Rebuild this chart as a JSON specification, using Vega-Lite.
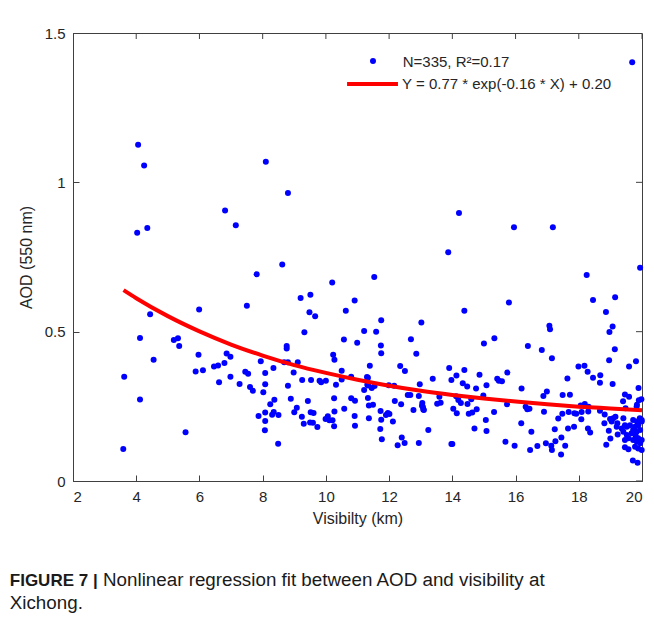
{
  "$schema": "https://vega.github.io/schema/vega-lite/v6.json",
  "autosize": {"type": "none"},
  "width": 569,
  "height": 448,
  "padding": {"left": 73, "top": 33, "right": 12, "bottom": 139},
  "background": "white",
  "config": {
    "font": "Liberation Sans",
    "view": {"stroke": "#404040", "strokeWidth": 1},
    "axis": {
      "grid": false,
      "domainColor": "#404040",
      "tickColor": "#404040",
      "labelColor": "#262626",
      "titleColor": "#262626",
      "labelFont": "Liberation Sans",
      "titleFont": "Liberation Sans",
      "labelFontSize": 15,
      "titleFontSize": 16,
      "titleFontWeight": "normal",
      "tickSize": -6,
      "domainWidth": 1,
      "tickWidth": 1
    }
  },
  "datasets": {
    "points": [
      {"x":4.06,"y":1.126},{"x":4.25,"y":1.056},{"x":4.03,"y":0.831},{"x":4.35,"y":0.847},{"x":8.10,"y":1.069},{"x":8.80,"y":0.964},{"x":6.81,"y":0.906},{"x":7.15,"y":0.856},{"x":19.69,"y":1.402},{"x":14.21,"y":0.897},{"x":15.95,"y":0.850},{"x":17.18,"y":0.850},{"x":13.87,"y":0.766},
      {"x":3.62,"y":0.349},{"x":3.59,"y":0.107},{"x":4.12,"y":0.479},{"x":4.12,"y":0.273},{"x":4.44,"y":0.558},{"x":4.55,"y":0.406},{"x":5.19,"y":0.472},{"x":5.32,"y":0.478},{"x":5.36,"y":0.452},{"x":5.56,"y":0.163},{"x":5.99,"y":0.574},{"x":5.97,"y":0.423},{"x":5.88,"y":0.367},{"x":6.11,"y":0.371},{"x":6.46,"y":0.383},{"x":6.59,"y":0.387},{"x":6.62,"y":0.331},{"x":6.79,"y":0.395},{"x":6.86,"y":0.427},{"x":6.98,"y":0.416},{"x":6.98,"y":0.349},{"x":7.27,"y":0.325},{"x":7.45,"y":0.366},{"x":7.54,"y":0.359},{"x":7.50,"y":0.587},{"x":7.60,"y":0.315},{"x":7.69,"y":0.302},{"x":7.81,"y":0.692},{"x":7.87,"y":0.218},{"x":7.94,"y":0.401},{"x":8.02,"y":0.297},{"x":8.08,"y":0.362},{"x":8.08,"y":0.324},{"x":8.08,"y":0.229},{"x":8.08,"y":0.201},{"x":8.07,"y":0.170},{"x":8.24,"y":0.257},{"x":8.34,"y":0.378},{"x":8.37,"y":0.272},{"x":8.30,"y":0.222},{"x":8.35,"y":0.231},{"x":8.50,"y":0.221},{"x":8.49,"y":0.125},{"x":8.62,"y":0.725},{"x":8.76,"y":0.444},{"x":8.76,"y":0.452},{"x":8.80,"y":0.398},{"x":8.68,"y":0.398},{"x":8.80,"y":0.319},{"x":8.89,"y":0.275},{"x":8.98,"y":0.363},{"x":9.11,"y":0.398},{"x":9.00,"y":0.230},{"x":9.08,"y":0.245},{"x":9.20,"y":0.613},{"x":9.32,"y":0.498},{"x":9.25,"y":0.338},{"x":9.24,"y":0.215},{"x":9.30,"y":0.192},{"x":9.43,"y":0.268},{"x":9.48,"y":0.565},{"x":9.51,"y":0.624},{"x":9.66,"y":0.552},{"x":9.53,"y":0.338},{"x":9.52,"y":0.230},{"x":9.61,"y":0.228},{"x":9.50,"y":0.196},{"x":9.59,"y":0.195},{"x":9.73,"y":0.181},{"x":9.80,"y":0.336},{"x":9.85,"y":0.331},{"x":10.00,"y":0.336},{"x":9.99,"y":0.208},{"x":10.06,"y":0.217},{"x":10.11,"y":0.203},{"x":10.21,"y":0.203},{"x":10.26,"y":0.183},{"x":10.20,"y":0.665},{"x":10.23,"y":0.423},{"x":10.27,"y":0.406},{"x":10.26,"y":0.277},{"x":10.27,"y":0.233},{"x":10.32,"y":0.322},{"x":10.57,"y":0.474},{"x":10.63,"y":0.570},{"x":10.50,"y":0.369},{"x":10.50,"y":0.340},{"x":10.58,"y":0.242},{"x":10.91,"y":0.604},{"x":10.99,"y":0.463},{"x":10.80,"y":0.349},{"x":10.80,"y":0.277},{"x":10.92,"y":0.269},{"x":10.91,"y":0.218},{"x":10.92,"y":0.185},
      {"x":11.53,"y":0.683},{"x":19.94,"y":0.714},{"x":18.25,"y":0.690},{"x":15.79,"y":0.598},{"x":18.45,"y":0.606},{"x":19.15,"y":0.615},{"x":18.86,"y":0.566},{"x":14.38,"y":0.570},{"x":11.75,"y":0.538},{"x":13.02,"y":0.531},{"x":17.07,"y":0.520},{"x":17.09,"y":0.508},{"x":19.07,"y":0.517},{"x":18.97,"y":0.499},{"x":11.21,"y":0.502},{"x":11.59,"y":0.500},{"x":12.69,"y":0.475},{"x":15.33,"y":0.478},{"x":15.00,"y":0.460},{"x":16.39,"y":0.452},{"x":16.83,"y":0.439},{"x":19.14,"y":0.441},{"x":11.74,"y":0.454},{"x":11.75,"y":0.428},{"x":12.86,"y":0.426},{"x":17.15,"y":0.411},{"x":18.96,"y":0.404},{"x":19.81,"y":0.401},{"x":11.39,"y":0.386},{"x":12.35,"y":0.385},{"x":13.90,"y":0.378},{"x":14.38,"y":0.372},{"x":17.99,"y":0.383},{"x":18.18,"y":0.386},{"x":19.59,"y":0.383},{"x":12.50,"y":0.368},{"x":18.28,"y":0.366},{"x":15.74,"y":0.363},{"x":14.86,"y":0.356},{"x":14.13,"y":0.353},{"x":11.30,"y":0.348},{"x":13.38,"y":0.342},{"x":13.97,"y":0.338},{"x":15.42,"y":0.342},{"x":15.47,"y":0.336},{"x":15.57,"y":0.334},{"x":18.45,"y":0.346},{"x":18.68,"y":0.354},{"x":18.67,"y":0.329},{"x":17.64,"y":0.343},{"x":19.07,"y":0.325},{"x":19.89,"y":0.311},{"x":14.33,"y":0.327},{"x":14.47,"y":0.316},{"x":14.75,"y":0.310},{"x":15.08,"y":0.321},{"x":16.19,"y":0.310},{"x":12.97,"y":0.324},{"x":11.34,"y":0.320},{"x":11.45,"y":0.311},{"x":11.54,"y":0.318},{"x":11.99,"y":0.321},{"x":12.16,"y":0.319},{"x":11.21,"y":0.305},{"x":16.99,"y":0.300},{"x":16.88,"y":0.285},{"x":17.49,"y":0.288},{"x":17.72,"y":0.289},{"x":19.46,"y":0.290},{"x":19.59,"y":0.282},{"x":19.40,"y":0.267},{"x":19.98,"y":0.274},{"x":19.90,"y":0.270},{"x":19.84,"y":0.255},{"x":12.59,"y":0.288},{"x":12.67,"y":0.288},{"x":12.94,"y":0.285},{"x":13.59,"y":0.282},{"x":14.12,"y":0.284},{"x":14.98,"y":0.286},{"x":11.33,"y":0.278},{"x":12.18,"y":0.268},{"x":13.05,"y":0.261},{"x":13.63,"y":0.262},{"x":13.52,"y":0.259},{"x":14.19,"y":0.271},{"x":14.27,"y":0.261},{"x":14.48,"y":0.258},{"x":14.60,"y":0.274},{"x":14.77,"y":0.240},{"x":15.73,"y":0.257},{"x":16.32,"y":0.249},{"x":16.37,"y":0.240},{"x":16.44,"y":0.242},{"x":16.90,"y":0.232},{"x":17.68,"y":0.231},{"x":17.86,"y":0.227},{"x":17.92,"y":0.225},{"x":18.09,"y":0.231},{"x":18.06,"y":0.253},{"x":18.19,"y":0.258},{"x":18.30,"y":0.233},{"x":18.31,"y":0.249},{"x":18.67,"y":0.235},{"x":18.82,"y":0.223},{"x":19.16,"y":0.215},{"x":19.48,"y":0.244},{"x":18.99,"y":0.208},{"x":19.04,"y":0.199},{"x":18.08,"y":0.207},{"x":17.48,"y":0.225},{"x":17.66,"y":0.176},{"x":17.85,"y":0.182},{"x":17.35,"y":0.209},{"x":17.24,"y":0.173},{"x":16.18,"y":0.193},{"x":16.50,"y":0.165},{"x":18.29,"y":0.176},{"x":18.36,"y":0.162},{"x":18.81,"y":0.193},{"x":18.95,"y":0.168},{"x":19.22,"y":0.193},{"x":19.23,"y":0.156},{"x":19.00,"y":0.142},{"x":18.87,"y":0.121},{"x":11.73,"y":0.234},{"x":11.75,"y":0.205},{"x":11.72,"y":0.174},{"x":11.77,"y":0.140},{"x":11.36,"y":0.253},{"x":11.36,"y":0.210},{"x":11.49,"y":0.255},{"x":11.90,"y":0.221},{"x":11.96,"y":0.228},{"x":12.12,"y":0.199},{"x":12.38,"y":0.257},{"x":12.77,"y":0.238},{"x":13.07,"y":0.248},{"x":13.08,"y":0.239},{"x":13.24,"y":0.171},{"x":12.27,"y":0.120},{"x":12.40,"y":0.146},{"x":12.49,"y":0.127},{"x":12.94,"y":0.127},{"x":13.97,"y":0.124},{"x":14.00,"y":0.124},{"x":14.03,"y":0.242},{"x":14.14,"y":0.227},{"x":14.52,"y":0.225},{"x":14.63,"y":0.229},{"x":14.70,"y":0.176},{"x":15.06,"y":0.204},{"x":15.08,"y":0.167},{"x":15.32,"y":0.231},{"x":15.68,"y":0.131},{"x":15.97,"y":0.118},{"x":16.46,"y":0.104},{"x":16.69,"y":0.117},{"x":16.96,"y":0.126},{"x":17.13,"y":0.118},{"x":17.15,"y":0.104},{"x":17.26,"y":0.133},{"x":17.45,"y":0.146},{"x":17.57,"y":0.118},{"x":17.44,"y":0.089},
      {"x":11.31,"y":0.322},{"x":11.33,"y":0.346},{"x":12.01,"y":0.224},{"x":13.04,"y":0.252},{"x":13.10,"y":0.238},
      {"x":19.84,"y":0.199},{"x":19.93,"y":0.210},{"x":19.99,"y":0.199},{"x":19.88,"y":0.187},{"x":19.78,"y":0.182},{"x":19.72,"y":0.171},{"x":19.83,"y":0.165},{"x":19.94,"y":0.171},{"x":19.67,"y":0.160},{"x":19.80,"y":0.151},{"x":19.88,"y":0.143},{"x":19.99,"y":0.137},{"x":19.72,"y":0.137},{"x":19.83,"y":0.132},{"x":19.94,"y":0.126},{"x":19.78,"y":0.115},{"x":19.88,"y":0.109},{"x":19.99,"y":0.104},{"x":19.86,"y":0.061},{"x":19.71,"y":0.069},{"x":19.57,"y":0.106},{"x":19.46,"y":0.113},{"x":19.46,"y":0.137},{"x":19.57,"y":0.143},{"x":19.52,"y":0.154},{"x":19.41,"y":0.165},{"x":19.36,"y":0.176},{"x":19.52,"y":0.182},{"x":19.46,"y":0.187},{"x":19.62,"y":0.187},{"x":19.41,"y":0.210},{"x":19.20,"y":0.182},{"x":19.09,"y":0.210},{"x":19.83,"y":0.249},{"x":19.99,"y":0.204},{"x":19.72,"y":0.204}
    ],
    "fit": [
      {"x":3.6,"y":0.639},{"x":4,"y":0.612},{"x":5,"y":0.552},{"x":6,"y":0.501},{"x":7,"y":0.457},{"x":8,"y":0.420},{"x":9,"y":0.388},{"x":10,"y":0.362},{"x":11,"y":0.339},{"x":12,"y":0.319},{"x":13,"y":0.302},{"x":14,"y":0.288},{"x":15,"y":0.276},{"x":16,"y":0.266},{"x":17,"y":0.257},{"x":18,"y":0.249},{"x":19,"y":0.243},{"x":20,"y":0.237}
    ],
    "xticks": [{"x":2},{"x":4},{"x":6},{"x":8},{"x":10},{"x":12},{"x":14},{"x":16},{"x":18},{"x":20}],
    "yticks": [{"y":0},{"y":0.5},{"y":1},{"y":1.5}]
  },
  "layer": [
    {
      "data": {"name": "points"},
      "mark": {"type": "point", "filled": true, "size": 36, "opacity": 1, "color": "#0000ff"},
      "encoding": {
        "x": {"field": "x", "type": "quantitative", "title": "Visibilty (km)", "scale": {"domain": [2, 20], "nice": false, "zero": false},
              "axis": {"orient": "bottom", "values": [2,4,6,8,10,12,14,16,18,20], "title": "Visibilty (km)", "labelPadding": 14, "titlePadding": 6}},
        "y": {"field": "y", "type": "quantitative", "title": "AOD (550 nm)", "scale": {"domain": [0, 1.5], "nice": false, "zero": false},
              "axis": {"orient": "left", "values": [0, 0.5, 1, 1.5], "format": "~g", "title": "AOD (550 nm)", "labelPadding": 14, "titlePadding": 10}}
      }
    },
    {
      "data": {"name": "fit"},
      "mark": {"type": "line", "strokeWidth": 4, "interpolate": "monotone", "color": "#ff0000"},
      "encoding": {
        "x": {"field": "x", "type": "quantitative", "title": "Visibilty (km)"},
        "y": {"field": "y", "type": "quantitative", "title": "AOD (550 nm)"}
      }
    },
    {
      "data": {"name": "xticks"},
      "mark": {"type": "tick", "orient": "vertical", "size": 12, "thickness": 1, "color": "#404040", "opacity": 1, "clip": true},
      "encoding": {"x": {"field": "x", "type": "quantitative", "title": "Visibilty (km)"}, "y": {"datum": 1.5, "title": "AOD (550 nm)"}}
    },
    {
      "data": {"name": "yticks"},
      "mark": {"type": "tick", "orient": "horizontal", "size": 12, "thickness": 1, "color": "#404040", "opacity": 1, "clip": true},
      "encoding": {"y": {"field": "y", "type": "quantitative", "title": "AOD (550 nm)"}, "x": {"datum": 20, "title": "Visibilty (km)"}}
    },
    {
      "data": {"values": [{}]},
      "mark": {"type": "point", "filled": true, "size": 36, "opacity": 1, "color": "#0000ff"},
      "encoding": {"x": {"datum": 11.49, "title": "Visibilty (km)"}, "y": {"datum": 1.406, "title": "AOD (550 nm)"}}
    },
    {
      "data": {"values": [{}]},
      "mark": {"type": "rule", "strokeWidth": 4, "color": "#ff0000"},
      "encoding": {"x": {"datum": 10.67, "title": "Visibilty (km)"}, "x2": {"datum": 12.28}, "y": {"datum": 1.329, "title": "AOD (550 nm)"}}
    },
    {
      "data": {"values": [{}]},
      "mark": {"type": "text", "align": "left", "baseline": "middle", "fontSize": 15, "color": "#262626", "font": "Liberation Sans"},
      "encoding": {"x": {"datum": 12.43, "title": "Visibilty (km)"}, "y": {"datum": 1.404, "title": "AOD (550 nm)"}, "text": {"value": "N=335, R²=0.17"}}
    },
    {
      "data": {"values": [{}]},
      "mark": {"type": "text", "align": "left", "baseline": "middle", "fontSize": 15, "color": "#262626", "font": "Liberation Sans"},
      "encoding": {"x": {"datum": 12.41, "title": "Visibilty (km)"}, "y": {"datum": 1.329, "title": "AOD (550 nm)"}, "text": {"value": "Y = 0.77 * exp(-0.16 * X) + 0.20"}}
    },
    {
      "data": {"values": [{}]},
      "mark": {"type": "text", "align": "left", "baseline": "alphabetic", "fontSize": 17, "fontWeight": "bold", "color": "#1a1a1a", "font": "Liberation Sans"},
      "encoding": {"x": {"datum": 0, "title": "Visibilty (km)"}, "y": {"datum": -0.352, "title": "AOD (550 nm)"}, "text": {"value": "FIGURE 7 |"}}
    },
    {
      "data": {"values": [{}]},
      "mark": {"type": "text", "align": "left", "baseline": "alphabetic", "fontSize": 18.8, "color": "#1a1a1a", "font": "Liberation Sans"},
      "encoding": {"x": {"datum": 2.95, "title": "Visibilty (km)"}, "y": {"datum": -0.352, "title": "AOD (550 nm)"}, "text": {"value": "Nonlinear regression fit between AOD and visibility at"}}
    },
    {
      "data": {"values": [{}]},
      "mark": {"type": "text", "align": "left", "baseline": "alphabetic", "fontSize": 18.8, "color": "#1a1a1a", "font": "Liberation Sans"},
      "encoding": {"x": {"datum": 0, "title": "Visibilty (km)"}, "y": {"datum": -0.43, "title": "AOD (550 nm)"}, "text": {"value": "Xichong."}}
    }
  ]
}
